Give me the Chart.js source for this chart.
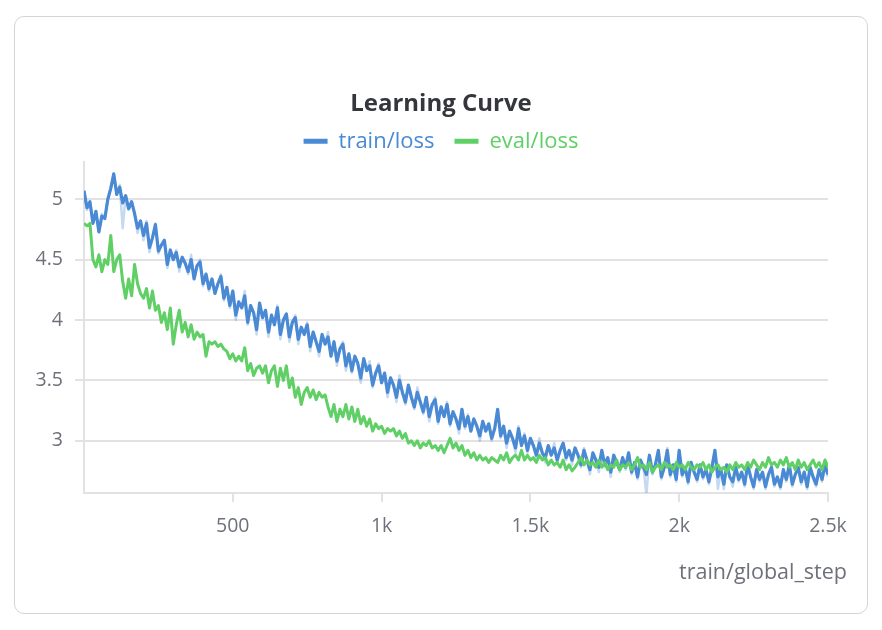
<!DOCTYPE html>
<html><head><meta charset="utf-8">
<script src="https://cdn.jsdelivr.net/npm/chart.js@4.4.1/dist/chart.umd.min.js"></script>
<style>
html,body{margin:0;padding:0;background:#fff;}
#card{position:absolute;left:14px;top:16px;width:854px;height:598px;border:1.5px solid #d4d4d9;border-radius:10px;box-sizing:border-box;}
#wrap{position:absolute;left:0;top:0;width:882px;height:630px;}
</style></head><body>
<div id="card"></div>
<div id="wrap"><canvas id="c" width="882" height="630"></canvas></div>
<script>
// ---- data (steps every 10, from 0 to 2500) ----
const STEP_START = 0;
const STEP_EVERY = 10;

const trainLoss = [
5.07,4.93,4.98,4.80,4.90,4.73,4.86,4.84,5.00,5.09,5.21,
5.04,5.10,4.97,5.03,4.92,4.98,4.88,4.76,4.82,4.70,
4.80,4.60,4.68,4.79,4.57,4.62,4.66,4.46,4.58,4.50,
4.56,4.44,4.52,4.47,4.40,4.50,4.34,4.45,4.48,4.30,
4.38,4.26,4.34,4.22,4.30,4.36,4.18,4.27,4.12,4.24,
4.04,4.15,4.10,4.20,3.98,4.12,4.06,3.92,4.14,4.02,
4.08,3.90,4.04,3.96,4.10,3.88,4.00,4.05,3.86,3.98,
4.02,3.84,3.94,3.88,3.96,3.78,3.90,3.82,3.74,3.88,
3.80,3.86,3.70,3.82,3.66,3.76,3.80,3.62,3.72,3.58,
3.70,3.64,3.52,3.68,3.58,3.62,3.46,3.56,3.62,3.48,
3.56,3.40,3.52,3.46,3.36,3.50,3.40,3.32,3.46,3.36,
3.28,3.40,3.32,3.24,3.36,3.20,3.30,3.34,3.16,3.28,
3.20,3.30,3.14,3.24,3.18,3.10,3.26,3.12,3.20,3.08,
3.18,3.12,3.04,3.16,3.08,3.14,3.02,3.10,3.26,3.04,
3.12,2.98,3.08,3.02,2.94,3.10,2.96,3.04,2.92,3.02,
2.96,2.88,2.98,2.90,2.86,2.96,2.88,2.94,2.84,2.92,
2.98,2.86,2.92,2.84,2.94,2.88,2.80,2.92,2.84,2.76,
2.90,2.84,2.78,2.92,2.80,2.86,2.74,2.88,2.82,2.76,
2.86,2.78,2.90,2.74,2.82,2.70,2.84,2.78,2.72,2.88,
2.74,2.80,2.92,2.70,2.78,2.92,2.72,2.80,2.68,2.92,
2.72,2.78,2.66,2.82,2.74,2.68,2.80,2.70,2.76,2.66,
2.78,2.92,2.70,2.76,2.64,2.80,2.70,2.66,2.78,2.68,
2.74,2.64,2.80,2.70,2.62,2.76,2.68,2.74,2.62,2.72,
2.78,2.64,2.70,2.62,2.76,2.68,2.80,2.64,2.72,2.78,
2.66,2.74,2.62,2.78,2.70,2.64,2.76,2.68,2.80,2.72
];

const trainLossRaw = [
5.07,4.91,4.98,4.80,4.90,4.73,4.88,4.84,5.00,5.09,5.21,
5.04,5.12,4.76,5.03,4.92,4.98,4.88,4.72,4.82,4.66,
4.82,4.56,4.68,4.80,4.55,4.62,4.66,4.43,4.58,4.50,
4.58,4.40,4.52,4.47,4.38,4.54,4.34,4.45,4.50,4.28,
4.38,4.24,4.34,4.22,4.30,4.38,4.16,4.27,4.10,4.24,
4.00,4.15,4.10,4.24,3.96,4.12,4.06,3.88,4.14,4.02,
4.08,3.86,4.04,3.96,4.12,3.84,4.00,4.05,3.82,3.98,
4.04,3.80,3.94,3.88,3.98,3.74,3.90,3.82,3.70,3.88,
3.80,3.90,3.70,3.82,3.62,3.76,3.82,3.58,3.72,3.56,
3.70,3.64,3.48,3.68,3.58,3.66,3.44,3.56,3.64,3.48,
3.56,3.36,3.52,3.46,3.32,3.54,3.40,3.30,3.46,3.36,
3.26,3.44,3.32,3.22,3.36,3.16,3.30,3.36,3.14,3.28,
3.20,3.32,3.12,3.24,3.18,3.06,3.26,3.10,3.22,3.08,
3.18,3.12,3.00,3.16,3.08,3.14,3.00,3.10,3.26,3.02,
3.12,2.94,3.08,3.02,2.90,3.12,2.96,3.06,2.90,3.02,
2.96,2.86,3.02,2.90,2.82,2.96,2.88,2.98,2.82,2.92,
2.98,2.84,2.92,2.80,2.94,2.88,2.78,2.94,2.84,2.72,
2.90,2.84,2.74,2.92,2.78,2.86,2.70,2.88,2.82,2.74,
2.86,2.76,2.90,2.72,2.82,2.68,2.84,2.78,2.55,2.88,
2.72,2.80,2.92,2.68,2.78,2.94,2.70,2.80,2.66,2.92,
2.70,2.78,2.64,2.82,2.74,2.66,2.80,2.68,2.76,2.64,
2.78,2.92,2.60,2.76,2.60,2.80,2.70,2.62,2.78,2.66,
2.74,2.62,2.80,2.70,2.60,2.76,2.66,2.74,2.60,2.72,
2.78,2.62,2.70,2.60,2.76,2.66,2.80,2.62,2.72,2.78,
2.64,2.74,2.60,2.78,2.68,2.62,2.76,2.66,2.80,2.70
];

const evalLoss = [
4.80,4.78,4.80,4.50,4.44,4.54,4.40,4.50,4.46,4.70,4.40,
4.50,4.54,4.32,4.18,4.34,4.20,4.46,4.30,4.22,4.18,
4.26,4.10,4.24,4.08,4.12,3.98,4.06,3.92,4.10,3.80,
3.96,4.08,3.90,3.98,3.86,3.96,3.84,3.90,3.86,3.88,
3.70,3.82,3.80,3.82,3.78,3.80,3.76,3.74,3.68,3.72,
3.66,3.70,3.66,3.77,3.58,3.64,3.54,3.60,3.62,3.56,
3.62,3.48,3.58,3.62,3.45,3.60,3.50,3.62,3.44,3.52,
3.36,3.44,3.30,3.40,3.44,3.36,3.42,3.34,3.40,3.36,
3.38,3.28,3.20,3.30,3.16,3.26,3.20,3.30,3.18,3.28,
3.16,3.26,3.14,3.20,3.12,3.18,3.08,3.14,3.10,3.12,
3.06,3.10,3.08,3.10,3.04,3.08,3.02,3.06,2.98,3.00,
2.96,3.00,2.94,2.98,2.96,3.00,2.94,2.96,2.92,2.96,
2.90,2.96,3.02,2.94,2.98,2.92,2.96,2.88,2.92,2.86,
2.90,2.84,2.88,2.84,2.86,2.82,2.86,2.84,2.82,2.88,
2.84,2.90,2.82,2.86,2.88,2.84,2.92,2.84,2.88,2.84,
2.86,2.82,2.88,2.84,2.86,2.80,2.84,2.80,2.82,2.78,
2.84,2.76,2.80,2.75,2.78,2.82,2.86,2.80,2.84,2.80,
2.82,2.78,2.84,2.78,2.82,2.76,2.80,2.78,2.84,2.76,
2.80,2.78,2.82,2.76,2.80,2.86,2.78,2.80,2.76,2.82,
2.74,2.78,2.80,2.76,2.82,2.78,2.80,2.76,2.82,2.78,
2.80,2.76,2.82,2.78,2.76,2.80,2.78,2.82,2.76,2.80,
2.74,2.78,2.80,2.76,2.78,2.74,2.80,2.76,2.82,2.78,
2.80,2.76,2.82,2.78,2.84,2.80,2.76,2.82,2.78,2.86,
2.80,2.82,2.78,2.84,2.80,2.86,2.78,2.82,2.76,2.84,
2.78,2.82,2.76,2.80,2.84,2.78,2.82,2.76,2.84,2.78
];

const xTickValues = [500, 1000, 1500, 2000, 2500];
const yTickValues = [3, 3.5, 4, 4.5, 5];
const seriesNames = ['train/loss', 'eval/loss'];
const xAxisTitle = 'train/global_step';
const chartTitle = 'Learning Curve';

// ---- styling ----
const BLUE = '#4a8ad5';
const BLUE_FAINT = 'rgba(74,138,213,0.32)';
const GREEN = '#5fcf66';
const GREY_TXT = '#6e717a';
const GRID = '#e2e2e4';
const FONT = '"Open Sans"';

function toPoints(arr) {
  return arr.map((v, i) => ({ x: STEP_START + i * STEP_EVERY, y: v }));
}

const xTitlePlugin = {
  id: 'xTitle',
  afterDraw(chart) {
    const ctx = chart.ctx;
    ctx.save();
    ctx.font = '21.5px ' + FONT;
    ctx.fillStyle = GREY_TXT;
    ctx.textAlign = 'right';
    ctx.textBaseline = 'middle';
    ctx.fillText(xAxisTitle, 847, 573);
    ctx.restore();
  }
};

new Chart(document.getElementById('c'), {
  type: 'line',
  data: {
    datasets: [
      { label: seriesNames[0], data: toPoints(trainLoss), borderColor: BLUE, backgroundColor: BLUE, borderWidth: 3.2, order: 1 },
      { label: seriesNames[1], data: toPoints(evalLoss), borderColor: GREEN, backgroundColor: GREEN, borderWidth: 3, order: 0 },
      { label: 'raw', data: toPoints(trainLossRaw), borderColor: BLUE_FAINT, backgroundColor: BLUE_FAINT, borderWidth: 2.5, order: 2 }
    ]
  },
  options: {
    responsive: false,
    animation: false,
    devicePixelRatio: 1,
    elements: { point: { radius: 0 }, line: { tension: 0, borderJoinStyle: 'round' } },
    layout: { padding: { top: 90, left: 20, right: 20, bottom: 37 } },
    plugins: {
      tooltip: { enabled: false },
      title: {
        display: true, text: chartTitle, color: '#34363b',
        font: { family: FONT, size: 24, weight: 'bold' },
        padding: { top: 0, bottom: -8.5 }
      },
      legend: {
        display: true,
        labels: {
          font: { family: FONT, size: 22 },
          usePointStyle: true,
          pointStyleWidth: 24,
          boxHeight: 10,
          padding: 20,
          generateLabels(chart) {
            return [0, 1].map(i => {
              const ds = chart.data.datasets[i];
              return {
                text: ds.label, fillStyle: ds.borderColor, strokeStyle: ds.borderColor,
                fontColor: ds.borderColor, lineWidth: 5, pointStyle: 'line',
                hidden: false, datasetIndex: i
              };
            });
          }
        }
      }
    },
    scales: {
      x: {
        type: 'linear', min: 0, max: 2500,
        afterBuildTicks(s) { s.ticks = xTickValues.map(v => ({ value: v })); },
        afterFit(s) { s.height = 100; },
        ticks: {
          color: GREY_TXT, font: { family: FONT, size: 19.5 }, padding: 13, maxRotation: 0,
          callback: v => v >= 1000 ? (v / 1000) + 'k' : String(v)
        },
        grid: { drawOnChartArea: false, drawTicks: true, tickLength: 9, color: GRID, lineWidth: 2 },
        border: { display: true, color: GRID, width: 2 }
      },
      y: {
        type: 'linear', position: 'left', min: 2.567, max: 5.306,
        afterBuildTicks(s) { s.ticks = yTickValues.map(v => ({ value: v })); },
        afterFit(s) { s.width = 64; },
        ticks: { color: GREY_TXT, font: { family: FONT, size: 19.5 }, padding: 12, callback: v => String(v) },
        grid: { color: GRID, lineWidth: 2, tickLength: 9 },
        border: { display: true, color: GRID, width: 2 }
      },
      ySpacer: {
        type: 'linear', position: 'right', display: true,
        afterFit(s) { s.width = 34; },
        ticks: { display: false },
        grid: { display: false, drawTicks: false },
        border: { display: false }
      }
    }
  },
  plugins: [xTitlePlugin]
});
</script>
</body></html>
